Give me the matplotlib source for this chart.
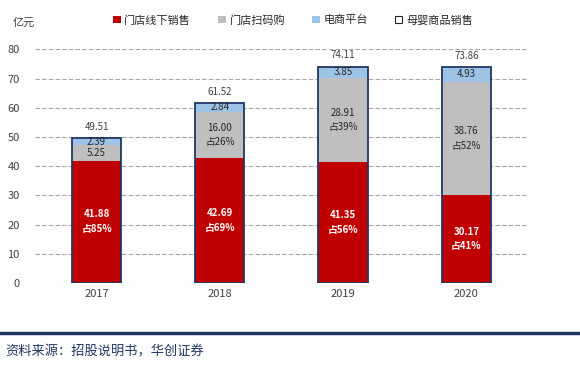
import matplotlib.pyplot as plt
from matplotlib.patches import Patch

plt.rcParams['font.family'] = ['Noto Sans CJK SC', 'DejaVu Sans']

# данные
years = ['2017', '2018', '2019', '2020']
offline = [41.88, 42.69, 41.35, 30.17]
scan = [5.25, 16.00, 28.91, 38.76]
online = [2.39, 2.84, 3.85, 4.93]
total = [49.51, 61.52, 74.11, 73.86]
offline_pct = ['占85%', '占69%', '占56%', '占41%']
scan_pct = ['', '占26%', '占39%', '占52%']
names = ['门店线下销售', '门店扫码购', '电商平台', '母婴商品销售']

red = '#C00000'
grey = '#BFBFBF'
blue = '#9DC3E6'
navy = '#1F3864'

fig = plt.figure(figsize=(5.8, 3.71), dpi=100)
ax = fig.add_axes([0.0603, 0.237, 0.85, 0.63])

x = list(range(len(years)))
w = 0.4
bottom2 = [offline[i] + scan[i] for i in x]
ax.bar(x, offline, w, color=red, zorder=2)
ax.bar(x, scan, w, bottom=offline, color=grey, zorder=2)
ax.bar(x, online, w, bottom=bottom2, color=blue, zorder=2)
ax.bar(x, total, w, fill=False, edgecolor=navy, linewidth=1.3, zorder=3)

for i in x:
    s = '%.2f' % offline[i] + '\n' + offline_pct[i]
    ax.text(i, offline[i] / 2, s, ha='center', va='center', color='white',
            fontsize=7, fontweight='bold', linespacing=1.6, zorder=4)
    s = '%.2f' % scan[i]
    if scan_pct[i]:
        s += '\n' + scan_pct[i]
    ax.text(i, offline[i] + scan[i] / 2, s, ha='center', va='center', color='#262626',
            fontsize=7, linespacing=1.6, zorder=4)
    ax.text(i, bottom2[i] + online[i] / 2, '%.2f' % online[i], ha='center', va='center',
            color='#262626', fontsize=7, zorder=4)
    ax.text(i, total[i] + 2.2, '%.2f' % total[i], ha='center', va='bottom',
            color='#404040', fontsize=7, zorder=4)

ax.set_xlim(-0.5, 3.5)
ax.set_ylim(0, 80)
ax.set_yticks(range(0, 81, 10))
ax.set_xticks(x)
ax.set_xticklabels(years)
ax.yaxis.grid(True, linestyle=(0, (4, 2)), color='#A6A6A6', linewidth=0.8, zorder=0)
for sp in ax.spines.values():
    sp.set_visible(False)
ax.tick_params(length=0, labelsize=8, colors='#404040', pad=4)
ax.tick_params(axis='y', pad=11)

handles = [Patch(facecolor=red), Patch(facecolor=grey), Patch(facecolor=blue),
           Patch(facecolor='white', edgecolor='#262626', linewidth=0.8)]
fig.legend(handles, names, loc='center', bbox_to_anchor=(0.505, 0.946), ncol=4,
           frameon=False, fontsize=8, handlelength=0.7, handleheight=0.7,
           handletextpad=0.35, columnspacing=2.4, labelcolor='#262626')
fig.text(0.022, 0.94, '亿元', fontsize=8, color='#404040', va='center')

fig.add_artist(plt.Line2D([0, 1], [1 - 333 / 371, 1 - 333 / 371], color=navy,
                          linewidth=2.5, transform=fig.transFigure))
fig.text(0.01, 1 - 352 / 371, '资料来源：招股说明书，华创证券', fontsize=9.5,
         color=navy, va='center', style='italic')

fig.savefig('out.png', dpi=100)
